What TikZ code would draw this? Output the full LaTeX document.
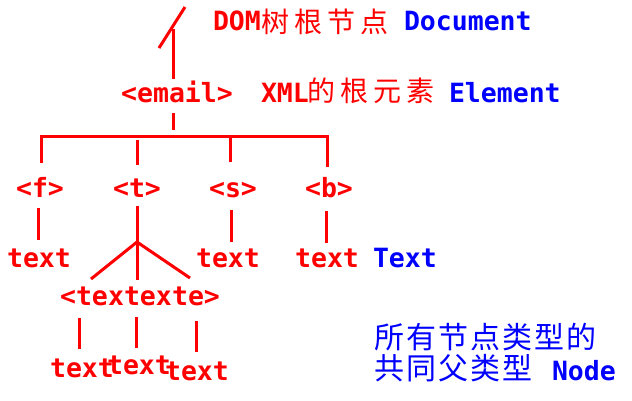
\documentclass[tikz,border=0pt]{standalone}
\usepackage{fontspec}
\usetikzlibrary{calc}
\setmainfont{DejaVu Sans Mono}
\newfontfamily\mono{DejaVu Sans Mono}
\newfontfamily\cjkA{Noto Sans CJK SC}[LetterSpace=18]
\newfontfamily\cjkB{Noto Sans CJK SC}[LetterSpace=7]
\definecolor{tred}{RGB}{255,0,0}
\definecolor{tblue}{RGB}{0,0,255}
\tikzset{
  tag/.style={inner sep=0pt, outer sep=0pt, anchor=base, text=tred,
    font=\mono\bfseries\fontsize{26.5}{30}\selectfont},
  lbl/.style={tag, anchor=base west},
  blbl/.style={lbl, text=tblue},
  cjklbl/.style={inner sep=0pt, outer sep=0pt, anchor=base west, text=tred,
    font=\cjkA\fontsize{28}{32}\selectfont},
  cjkblue/.style={inner sep=0pt, outer sep=0pt, anchor=base west, text=tblue,
    font=\cjkB\fontsize{30}{34}\selectfont},
  link/.style={draw=tred, line width=3pt}
}
\begin{document}
\begin{tikzpicture}[x=1pt,y=-1pt]
\fill[white] (0,0) rectangle (632,400);
\useasboundingbox (0,0) rectangle (632,400);
% top labels
\node[lbl] (dom) at (213,30) {DOM};
\node[cjklbl] (domc) at (261,32) {树根节点};
\node[blbl] (doc) at (404,30) {Document};
\node[tag] (email) at (177,102) {<email>};
\node[lbl] (xml) at (261,102) {XML};
\node[cjklbl] (xmlc) at (307,101) {的根元素};
\node[blbl] (elem) at (449,102) {Element};
% children
\node[tag] (f) at (40,197) {<f>};
\node[tag] (t) at (137,197) {<t>};
\node[tag] (s) at (233,197) {<s>};
\node[tag] (b) at (329,197) {<b>};
\node[tag] (ft) at (39,267) {text};
\node[tag] (st) at (228,267) {text};
\node[tag] (bt) at (327,267) {text};
\node[blbl] (tlab) at (373,267) {Text};
\node[tag] (t1) at (84,305) {<te};
\node[tag] (t2) at (140,305) {xtex};
\node[tag] (t3) at (196,305) {te>};
\node[tag] (u1) at (82,377) {text};
\node[tag] (u2) at (139,374) {text};
\node[tag] (u3) at (197,380) {text};
\node[cjkblue] (na) at (374,348) {所有节点类型的};
\node[cjkblue] (nb) at (374,379) {共同父类型};
\node[blbl] (nn) at (552,380) {Node};
% document root
\coordinate (docA) at (159,48);
\coordinate (docB) at (185,7);
\coordinate (docJ) at (173,29);
\draw[link] (docA) -- (docB);
\draw[link] ($(email.base)+(-4,-23)$) -- (docJ);
% email to children
\draw[link] ($(email.base)+(-4,11)$) -- ($(email.base)+(-4,28)$);
\draw[link] ($(f.base)+(1,-34)$) |- ($(b.base)+(-2,-61)$) -- ($(b.base)+(-2,-30)$);
\draw[link] ($(t.base)+(0,-57)$) -- ($(t.base)+(0,-32)$);
\draw[link] ($(s.base)+(-3,-61)$) -- ($(s.base)+(-3,-35)$);
% children to text
\draw[link] ($(f.base)+(-2,11)$) -- ($(ft.base)+(-1,-27)$);
\draw[link] ($(s.base)+(-2,13)$) -- ($(st.base)+(3,-25)$);
\draw[link] ($(b.base)+(-3,14)$) -- ($(bt.base)+(-1,-24)$);
\coordinate (tj) at ($(t.base)+(0,45)$);
\draw[link] ($(t.base)+(0,9)$) -- (tj);
\draw[link] (tj) -- ($(t1.base)+(7,-26)$);
\draw[link] (tj) -- ($(t2.base)+(-3,-25)$);
\draw[link] (tj) -- ($(t3.base)+(-6,-27)$);
\draw[link] ($(t1.base)+(-5,13)$) -- ($(u1.base)+(-3,-28)$);
\draw[link] ($(t2.base)+(-4,12)$) -- ($(u2.base)+(-3,-26)$);
\draw[link] ($(t3.base)+(0,16)$) -- ($(u3.base)+(-1,-28)$);
\end{tikzpicture}
\end{document}
